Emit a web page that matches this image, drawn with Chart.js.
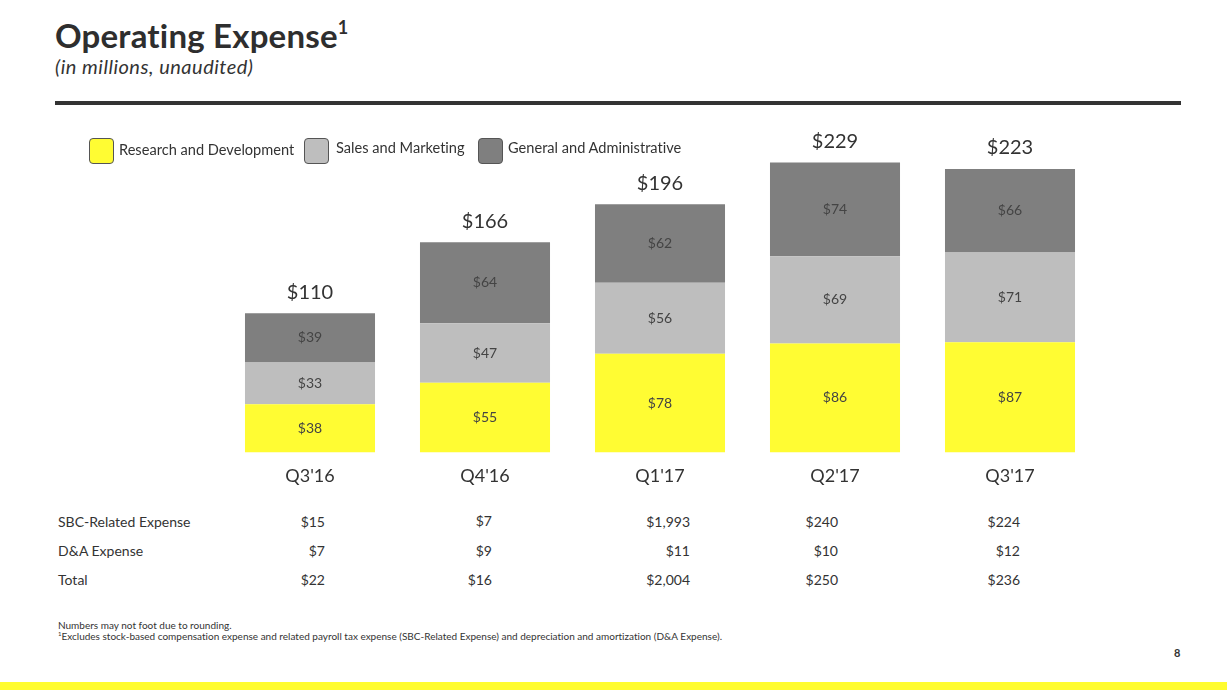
<!DOCTYPE html>
<html lang="en">
<head>
    <meta charset="UTF-8">
    <title>Operating Expense</title>
    <script src="https://cdn.jsdelivr.net/npm/chart.js"></script>
    <style>
        body { margin: 0; width: 1227px; height: 690px; background: #fff; position: relative; overflow: hidden; font-family: Lato, "Noto Sans", sans-serif; color: #333; font-variant-ligatures: none; }
        .abs { position: absolute; white-space: nowrap; }
        #title { left: 55px; top: 15px; font-size: 33px; font-weight: 700; color: #2e2e2e; letter-spacing: 0.2px; }
        #title sup { font-size: 18px; position: relative; top: -2px; }
        #subtitle { left: 55px; top: 54px; font-size: 20px; font-style: italic; color: #333; letter-spacing: 0.5px; }
        #rule { left: 55px; top: 101px; width: 1126px; height: 4px; background: #333; }
        .legend-box { width: 23px; height: 24px; border: 1px solid #555; border-radius: 4px; }
        .legend-text { font-size: 14.6px; color: #333; }
        #chartWrap { left: 0; top: 0; width: 1227px; height: 505px; }
        .row-label { font-size: 14px; color: #333; left: 58px; }
        .cell { font-size: 14px; color: #333; text-align: right; width: 100px; }
        .note { font-size: 10px; color: #333; left: 58px; }
        #page { left: 1174px; top: 646px; font-size: 11px; font-weight: 700; }
        #band { left: 0; top: 682px; width: 1227px; height: 8px; background: #fffc2f; }
    </style>
</head>
<body>
    <div id="title" class="abs">Operating Expense<sup>1</sup></div>
    <div id="subtitle" class="abs">(in millions, unaudited)</div>
    <div id="rule" class="abs"></div>

    <div id="chartWrap" class="abs"><canvas id="expenseChart"></canvas></div>
    <div id="legend"></div>
    <div id="table"></div>

    <div class="abs note" style="top: 619px;">Numbers may not foot due to rounding.</div>
    <div class="abs note" style="top: 630px;"><sup style="font-size:6px">1</sup>Excludes stock-based compensation expense and related payroll tax expense (SBC-Related Expense) and depreciation and amortization (D&amp;A Expense).</div>
    <div id="page" class="abs">8</div>
    <div id="band" class="abs"></div>

    <script>
        // Values in $ millions
        const quarters = ["Q3'16", "Q4'16", "Q1'17", "Q2'17", "Q3'17"];
        const researchDev = [38, 55, 78, 86, 87];
        const salesMarketing = [33, 47, 56, 69, 71];
        const generalAdmin = [39, 64, 62, 74, 66];
        const totals = [110, 166, 196, 229, 223];

        const tableRows = ['SBC-Related Expense', 'D&A Expense', 'Total'];
        const sbcExpense = ['$15', '$7', '$1,993', '$240', '$224'];
        const daExpense = ['$7', '$9', '$11', '$10', '$12'];
        const totalExpense = ['$22', '$16', '$2,004', '$250', '$236'];

        const colors = ['#fffc33', '#bebebe', '#7f7f7f'];
        const seriesNames = ['Research and Development', 'Sales and Marketing', 'General and Administrative'];

        // Legend
        const legendX = [89, 304, 478];
        const legendTextX = [119, 336, 508];
        const legend = document.getElementById('legend');
        seriesNames.forEach((name, i) => {
            const box = document.createElement('div');
            box.className = 'abs legend-box';
            box.style.left = legendX[i] + 'px';
            box.style.top = '138px';
            box.style.background = colors[i];
            legend.appendChild(box);
            const txt = document.createElement('div');
            txt.className = 'abs legend-text';
            txt.style.left = legendTextX[i] + 'px';
            txt.style.top = (i === 0 ? 141 : 139) + 'px';
            txt.textContent = name;
            legend.appendChild(txt);
        });

        // Table below chart
        const table = document.getElementById('table');
        const rowY = [513, 542, 571];
        const colRight = [325, 492, 690, 838, 1020];
        [sbcExpense, daExpense, totalExpense].forEach((vals, r) => {
            const lab = document.createElement('div');
            lab.className = 'abs row-label';
            lab.style.top = rowY[r] + 'px';
            lab.textContent = tableRows[r];
            table.appendChild(lab);
            vals.forEach((v, c) => {
                const cell = document.createElement('div');
                cell.className = 'abs cell';
                cell.style.left = (colRight[c] - 100) + 'px';
                cell.style.top = (rowY[r] - (r === 0 && (c === 1) ? 1 : 0)) + 'px';
                cell.textContent = v;
                table.appendChild(cell);
            });
        });

        // value labels inside segments and totals on top
        const labelPlugin = {
            id: 'barLabels',
            afterDatasetsDraw(chart) {
                const ctx = chart.ctx;
                ctx.save();
                ctx.textAlign = 'center';
                ctx.textBaseline = 'middle';
                chart.data.datasets.forEach((ds, di) => {
                    const meta = chart.getDatasetMeta(di);
                    meta.data.forEach((bar, i) => {
                        ctx.fillStyle = '#444';
                        ctx.font = '14px Lato, "Noto Sans", sans-serif';
                        ctx.fillText('$' + ds.data[i], bar.x, (bar.y + bar.base) / 2);
                        if (di === chart.data.datasets.length - 1) {
                            ctx.fillStyle = '#333';
                            ctx.font = '20px Lato, "Noto Sans", sans-serif';
                            ctx.fillText('$' + totals[i], bar.x, bar.y - 21);
                        }
                    });
                });
                ctx.restore();
            }
        };

        const ctx = document.getElementById('expenseChart').getContext('2d');
        new Chart(ctx, {
            type: 'bar',
            data: {
                labels: quarters,
                datasets: [
                    { label: seriesNames[0], data: researchDev, backgroundColor: colors[0] },
                    { label: seriesNames[1], data: salesMarketing, backgroundColor: colors[1] },
                    { label: seriesNames[2], data: generalAdmin, backgroundColor: colors[2] }
                ]
            },
            options: {
                responsive: true,
                maintainAspectRatio: false,
                animation: false,
                layout: { padding: { left: 222.5, right: 129.5, top: 136, bottom: 13 } },
                datasets: { bar: { categoryPercentage: 1, barPercentage: 0.743, borderWidth: 0 } },
                plugins: { legend: { display: false }, tooltip: { enabled: false } },
                scales: {
                    x: {
                        stacked: true,
                        grid: { display: false },
                        border: { display: false },
                        ticks: { color: '#333', padding: 5, font: { size: 18, family: 'Lato, "Noto Sans", sans-serif' } }
                    },
                    y: {
                        stacked: true,
                        display: false,
                        min: 0,
                        max: 250
                    }
                }
            },
            plugins: [labelPlugin]
        });
    </script>
</body>
</html>
